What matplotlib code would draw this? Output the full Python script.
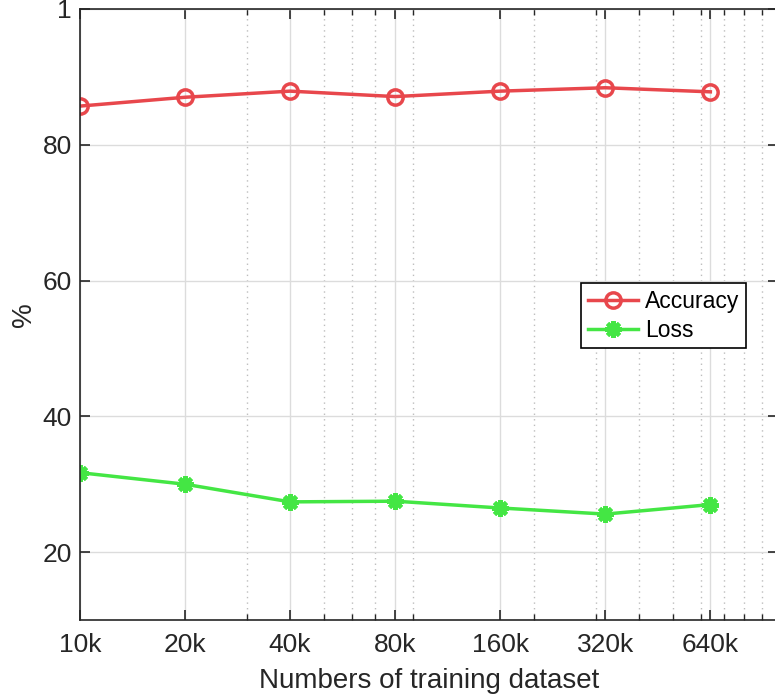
import matplotlib
matplotlib.use("Agg")
import matplotlib.pyplot as plt
from matplotlib.ticker import LogLocator, NullFormatter

plt.rcParams['font.family'] = ['Liberation Sans', 'DejaVu Sans']

sizes = [10000, 20000, 40000, 80000, 160000, 320000, 640000]
size_labels = ['10k', '20k', '40k', '80k', '160k', '320k', '640k']
accuracy = [85.7, 87.0, 87.9, 87.1, 87.9, 88.4, 87.8]
loss = [31.7, 30.0, 27.4, 27.5, 26.5, 25.6, 27.0]
y_ticks = [20, 40, 60, 80, 100]
y_labels = ['20', '40', '60', '80', '1']

fig = plt.figure(figsize=(7.75, 6.98), dpi=100)
ax = fig.add_axes([80/775, 78/698, 698/775, 611/698])

ax.plot(sizes, accuracy, color='#e8474c', lw=2.5, marker='o', ms=11,
        mfc='none', mew=2.5, label='Accuracy')
ax.plot(sizes, loss, color='#44e644', lw=2.5, marker=(8, 2, 0), ms=12,
        mew=3, label='Loss')

ax.set_xscale('log')
ax.set_xlim(1e4, 1e6)
ax.set_ylim(10, 100)
ax.set_xticks(sizes)
ax.set_xticklabels(size_labels)
ax.xaxis.set_minor_locator(LogLocator(base=10, subs=range(2, 10)))
ax.xaxis.set_minor_formatter(NullFormatter())
ax.set_yticks(y_ticks)
ax.set_yticklabels(y_labels)

ax.grid(True, which='major', color='#dcdcdc', lw=1, ls='-')
ax.grid(True, which='minor', axis='x', color='#bdbdbd', lw=1, ls=(0, (1, 3)))
ax.set_axisbelow(True)

ax.tick_params(which='both', direction='in', top=True, right=True,
               labelsize=19, colors='#262626', pad=6)
ax.tick_params(axis='x', which='both', pad=9)
ax.tick_params(which='major', length=7, width=1.2)
ax.tick_params(which='minor', length=4, width=1)
for s in ax.spines.values():
    s.set_color('#262626')
    s.set_linewidth(1.2)

ax.set_xlabel('Numbers of training dataset', fontsize=20, color='#262626', labelpad=8)
ax.set_ylabel('%', fontsize=20, color='#262626', labelpad=4)

leg = ax.legend(loc='upper left', bbox_to_anchor=(501/698, 1 - 274/611), fontsize=16.5,
                fancybox=False, framealpha=1, edgecolor='black',
                handlelength=2.2, borderpad=0.3, labelspacing=0.25,
                handletextpad=0.3, borderaxespad=0)
leg.get_frame().set_linewidth(1.2)

fig.savefig('out.png', dpi=100)
